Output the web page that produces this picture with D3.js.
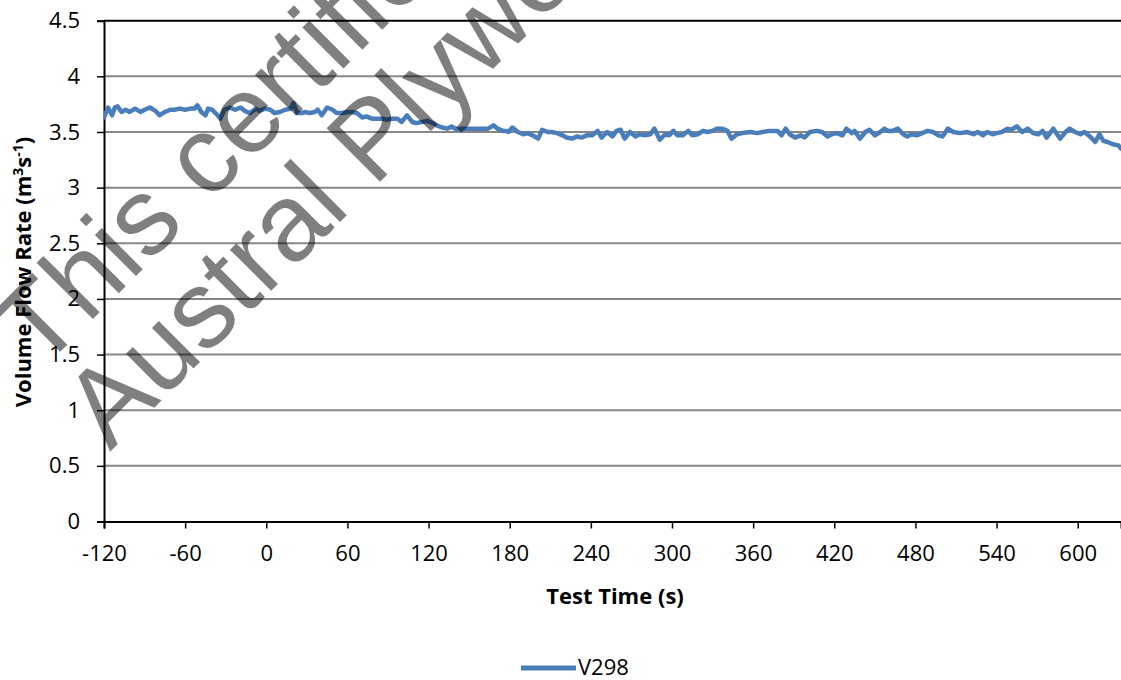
<!DOCTYPE html>
<html lang="en">
<head>
    <meta charset="UTF-8">
    <title>Volume Flow Rate V298</title>
    <script src="https://cdn.jsdelivr.net/npm/d3@7"></script>
    <style>
        body { margin: 0; background: #fff; }
        text { font-family: "Open Sans", "Noto Sans", sans-serif; fill: #000; }
        .tick text { font-size: 22px; }
        .title { font-size: 22px; font-weight: bold; }
        .mark { font-family: "Liberation Sans", Arial, sans-serif; font-size: 110px; fill: #000; fill-opacity: 0.5; }
    </style>
</head>
<body>
    <div id="chart"></div>
    <script>
        const timeS = [
            -120, -117, -114, -112, -110, -107, -104, -101, -97, -93,
            -90, -86, -82, -79, -75, -71, -68, -64, -60, -56,
            -53, -51, -48, -45, -43, -40, -36, -34, -31, -27,
            -23, -19, -16, -12, -8, -5, -1, 3, 6, 10,
            14, 18, 20, 23, 26, 29, 32, 36, 38, 41,
            45, 49, 52, 56, 60, 63, 67, 71, 74, 78,
            82, 86, 89, 93, 97, 100, 104, 108, 111, 115,
            119, 123, 126, 130, 134, 137, 141, 145, 151, 156,
            160, 164, 168, 171, 175, 177, 179, 182, 186, 190,
            193, 197, 201, 204, 208, 211, 215, 219, 222, 226,
            230, 233, 237, 241, 245, 248, 252, 256, 259, 262,
            265, 269, 273, 276, 280, 284, 287, 291, 295, 298,
            301, 304, 308, 312, 315, 319, 323, 326, 330, 333,
            337, 341, 344, 348, 352, 358, 363, 367, 372, 378,
            381, 384, 387, 391, 395, 398, 402, 407, 411, 415,
            418, 422, 426, 429, 433, 435, 439, 443, 446, 450,
            454, 457, 460, 463, 467, 471, 474, 477, 481, 485,
            489, 493, 497, 500, 504, 508, 513, 518, 523, 526,
            530, 533, 537, 540, 544, 548, 551, 555, 559, 563,
            567, 571, 574, 577, 582, 587, 591, 594, 598, 602,
            605, 609, 613, 616, 619, 622, 626, 630, 632
        ];
        const flowRate = [
            3.63, 3.72, 3.65, 3.72, 3.73, 3.68, 3.70, 3.68, 3.71, 3.68,
            3.70, 3.72, 3.69, 3.65, 3.68, 3.70, 3.70, 3.71, 3.70, 3.71,
            3.71, 3.74, 3.68, 3.65, 3.71, 3.70, 3.65, 3.62, 3.70, 3.72,
            3.70, 3.72, 3.69, 3.67, 3.71, 3.69, 3.71, 3.70, 3.67, 3.68,
            3.70, 3.71, 3.76, 3.67, 3.67, 3.68, 3.67, 3.68, 3.70, 3.65,
            3.72, 3.70, 3.67, 3.67, 3.68, 3.68, 3.67, 3.63, 3.64, 3.62,
            3.62, 3.62, 3.61, 3.62, 3.62, 3.59, 3.65, 3.59, 3.58, 3.59,
            3.60, 3.58, 3.56, 3.54, 3.53, 3.55, 3.52, 3.53, 3.53, 3.53,
            3.53, 3.53, 3.56, 3.53, 3.51, 3.51, 3.50, 3.54, 3.50, 3.48,
            3.49, 3.47, 3.44, 3.52, 3.50, 3.50, 3.49, 3.47, 3.45, 3.44,
            3.46, 3.45, 3.47, 3.47, 3.51, 3.45, 3.50, 3.46, 3.51, 3.52,
            3.44, 3.50, 3.46, 3.48, 3.47, 3.48, 3.53, 3.43, 3.48, 3.47,
            3.51, 3.47, 3.47, 3.51, 3.47, 3.48, 3.51, 3.50, 3.51, 3.53,
            3.53, 3.51, 3.44, 3.48, 3.49, 3.50, 3.49, 3.50, 3.51, 3.51,
            3.47, 3.53, 3.48, 3.45, 3.47, 3.45, 3.50, 3.51, 3.50, 3.46,
            3.48, 3.49, 3.47, 3.53, 3.49, 3.51, 3.44, 3.50, 3.52, 3.47,
            3.50, 3.53, 3.51, 3.51, 3.53, 3.48, 3.46, 3.48, 3.47, 3.49,
            3.51, 3.50, 3.47, 3.46, 3.53, 3.50, 3.49, 3.50, 3.48, 3.50,
            3.47, 3.50, 3.48, 3.49, 3.50, 3.53, 3.52, 3.55, 3.50, 3.53,
            3.49, 3.48, 3.51, 3.45, 3.53, 3.44, 3.50, 3.53, 3.50, 3.48,
            3.50, 3.46, 3.41, 3.48, 3.42, 3.41, 3.39, 3.38, 3.35
        ];
        const xTicks = [-120, -60, 0, 60, 120, 180, 240, 300, 360, 420, 480, 540, 600];
        const yTicks = [0, 0.5, 1, 1.5, 2, 2.5, 3, 3.5, 4, 4.5];
        const seriesName = "V298";
        const watermarkLines = ["This certificate", "Austral Plywoods"];

        const width = 1121, height = 680;
        const plot = { left: 104, right: 1121, top: 20.7, bottom: 521.5 };

        const svg = d3.select("#chart").append("svg")
            .attr("width", width)
            .attr("height", height)
            .style("display", "block");

        svg.append("rect").attr("width", width).attr("height", height).attr("fill", "#fff");

        const x = d3.scaleLinear().domain([-120, 632]).range([plot.left, plot.right]);
        const y = d3.scaleLinear().domain([0, 4.5]).range([plot.bottom, plot.top]);

        // horizontal gridlines
        svg.append("g")
            .selectAll("line")
            .data(yTicks.filter(d => d > 0 && d < 4.5))
            .enter()
            .append("line")
            .attr("x1", plot.left).attr("x2", plot.right)
            .attr("y1", d => y(d)).attr("y2", d => y(d))
            .attr("stroke", "#878787")
            .attr("stroke-width", 2);

        // top border
        svg.append("line")
            .attr("x1", plot.left).attr("x2", plot.right)
            .attr("y1", y(4.5)).attr("y2", y(4.5))
            .attr("stroke", "#000").attr("stroke-width", 2);

        // y axis
        const yAxis = svg.append("g")
            .attr("transform", `translate(${plot.left},0)`)
            .call(d3.axisLeft(y).tickValues(yTicks).tickFormat(d => String(d)).tickSize(7).tickPadding(17));
        yAxis.select(".domain").attr("stroke-width", 2);
        yAxis.selectAll(".tick line").attr("stroke-width", 1.5);

        // x axis, plain hyphen for negatives like the original
        const xAxis = svg.append("g")
            .attr("transform", `translate(0,${plot.bottom})`)
            .call(d3.axisBottom(x).tickValues(xTicks).tickFormat(d => String(d)).tickSize(7).tickPadding(17));
        xAxis.select(".domain").attr("stroke-width", 2);
        xAxis.selectAll(".tick line").attr("stroke-width", 1.5);

        // the series line
        const data = timeS.map((t, i) => ({ t: t, v: flowRate[i] }));
        svg.append("clipPath").attr("id", "plotClip")
            .append("rect")
            .attr("x", plot.left).attr("y", plot.top)
            .attr("width", plot.right - plot.left).attr("height", plot.bottom - plot.top);

        svg.append("path")
            .datum(data)
            .attr("clip-path", "url(#plotClip)")
            .attr("fill", "none")
            .attr("stroke", "#4a7ebb")
            .attr("stroke-width", 4.5)
            .attr("stroke-linejoin", "round")
            .attr("stroke-linecap", "round")
            .attr("d", d3.line().x(d => x(d.t)).y(d => y(d.v)));

        // axis titles
        svg.append("text")
            .attr("class", "title")
            .attr("x", 615).attr("y", 604)
            .attr("text-anchor", "middle")
            .text("Test Time (s)");

        const yTitle = svg.append("text")
            .attr("class", "title")
            .attr("transform", "translate(31,272) rotate(-90)")
            .attr("text-anchor", "middle");
        yTitle.append("tspan").text("Volume Flow Rate (m");
        yTitle.append("tspan").attr("font-size", "14px").attr("dy", -8).text("3");
        yTitle.append("tspan").attr("dy", 8).text("s");
        yTitle.append("tspan").attr("font-size", "14px").attr("dy", -8).text("-1");
        yTitle.append("tspan").attr("dy", 8).text(")");

        // legend
        const legend = svg.append("g").attr("transform", "translate(521,668)");
        legend.append("line")
            .attr("x1", 0).attr("x2", 55)
            .attr("stroke", "#4a7ebb").attr("stroke-width", 5);
        legend.append("text")
            .attr("x", 57).attr("y", 7)
            .style("font-size", "22px")
            .text(seriesName);

        // diagonal watermark over everything
        const markPos = [[40, 372], [110, 452]];
        svg.append("g")
            .selectAll("text")
            .data(watermarkLines)
            .enter()
            .append("text")
            .attr("class", "mark")
            .attr("transform", (d, i) => `translate(${markPos[i][0]},${markPos[i][1]}) rotate(-45)`)
            .text(d => d);
    </script>
</body>
</html>
